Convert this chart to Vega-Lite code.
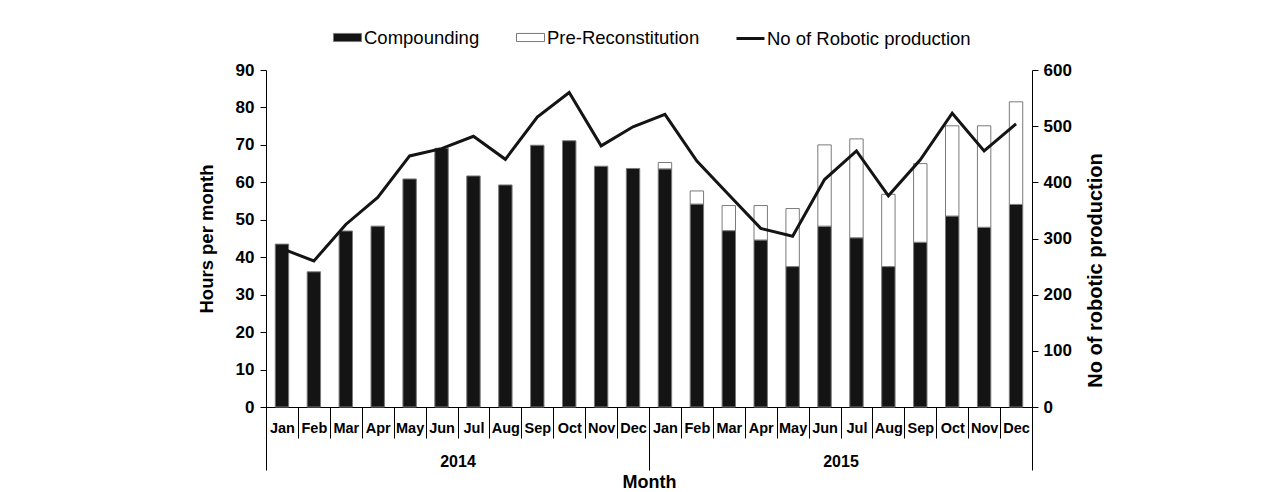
{
  "$schema": "https://vega.github.io/schema/vega-lite/v6.json",
  "width": 766,
  "height": 337,
  "autosize": {"type": "none"},
  "padding": {"left": 266, "top": 70, "right": 249, "bottom": 85},
  "background": "white",
  "config": {
    "view": {"stroke": null},
    "font": "Liberation Sans",
    "axis": {
      "grid": false,
      "domainColor": "#000000",
      "tickColor": "#000000",
      "labelColor": "#000000",
      "titleColor": "#000000",
      "labelFont": "Liberation Sans",
      "titleFont": "Liberation Sans",
      "labelFontWeight": "bold",
      "titleFontWeight": "bold"
    },
    "legend": {
      "labelFont": "Liberation Sans",
      "labelFontSize": 18.5,
      "labelColor": "#000000",
      "labelLimit": 400
    }
  },
  "datasets": {
    "bars": [
      {"period": "2014 Jan", "series": "Compounding", "hours": 43.5},
      {"period": "2014 Feb", "series": "Compounding", "hours": 36.1},
      {"period": "2014 Mar", "series": "Compounding", "hours": 47.0},
      {"period": "2014 Apr", "series": "Compounding", "hours": 48.3},
      {"period": "2014 May", "series": "Compounding", "hours": 60.9},
      {"period": "2014 Jun", "series": "Compounding", "hours": 69.1},
      {"period": "2014 Jul", "series": "Compounding", "hours": 61.7},
      {"period": "2014 Aug", "series": "Compounding", "hours": 59.3},
      {"period": "2014 Sep", "series": "Compounding", "hours": 69.9},
      {"period": "2014 Oct", "series": "Compounding", "hours": 71.1},
      {"period": "2014 Nov", "series": "Compounding", "hours": 64.3},
      {"period": "2014 Dec", "series": "Compounding", "hours": 63.7},
      {"period": "2015 Jan", "series": "Compounding", "hours": 63.6},
      {"period": "2015 Feb", "series": "Compounding", "hours": 54.2},
      {"period": "2015 Mar", "series": "Compounding", "hours": 47.1},
      {"period": "2015 Apr", "series": "Compounding", "hours": 44.6},
      {"period": "2015 May", "series": "Compounding", "hours": 37.5},
      {"period": "2015 Jun", "series": "Compounding", "hours": 48.3},
      {"period": "2015 Jul", "series": "Compounding", "hours": 45.2},
      {"period": "2015 Aug", "series": "Compounding", "hours": 37.5},
      {"period": "2015 Sep", "series": "Compounding", "hours": 44.0},
      {"period": "2015 Oct", "series": "Compounding", "hours": 51.0},
      {"period": "2015 Nov", "series": "Compounding", "hours": 48.0},
      {"period": "2015 Dec", "series": "Compounding", "hours": 54.1},
      {"period": "2015 Jan", "series": "Pre-Reconstitution", "hours": 1.7},
      {"period": "2015 Feb", "series": "Pre-Reconstitution", "hours": 3.5},
      {"period": "2015 Mar", "series": "Pre-Reconstitution", "hours": 6.7},
      {"period": "2015 Apr", "series": "Pre-Reconstitution", "hours": 9.2},
      {"period": "2015 May", "series": "Pre-Reconstitution", "hours": 15.5},
      {"period": "2015 Jun", "series": "Pre-Reconstitution", "hours": 21.7},
      {"period": "2015 Jul", "series": "Pre-Reconstitution", "hours": 26.4},
      {"period": "2015 Aug", "series": "Pre-Reconstitution", "hours": 19.3},
      {"period": "2015 Sep", "series": "Pre-Reconstitution", "hours": 21.0},
      {"period": "2015 Oct", "series": "Pre-Reconstitution", "hours": 24.1},
      {"period": "2015 Nov", "series": "Pre-Reconstitution", "hours": 27.1},
      {"period": "2015 Dec", "series": "Pre-Reconstitution", "hours": 27.4}
    ],
    "line": [
      {"period": "2014 Jan", "series": "No of Robotic production", "count": 282},
      {"period": "2014 Feb", "series": "No of Robotic production", "count": 260},
      {"period": "2014 Mar", "series": "No of Robotic production", "count": 325},
      {"period": "2014 Apr", "series": "No of Robotic production", "count": 373},
      {"period": "2014 May", "series": "No of Robotic production", "count": 447},
      {"period": "2014 Jun", "series": "No of Robotic production", "count": 460},
      {"period": "2014 Jul", "series": "No of Robotic production", "count": 482},
      {"period": "2014 Aug", "series": "No of Robotic production", "count": 441},
      {"period": "2014 Sep", "series": "No of Robotic production", "count": 516},
      {"period": "2014 Oct", "series": "No of Robotic production", "count": 560},
      {"period": "2014 Nov", "series": "No of Robotic production", "count": 465},
      {"period": "2014 Dec", "series": "No of Robotic production", "count": 499},
      {"period": "2015 Jan", "series": "No of Robotic production", "count": 521},
      {"period": "2015 Feb", "series": "No of Robotic production", "count": 438},
      {"period": "2015 Mar", "series": "No of Robotic production", "count": 378},
      {"period": "2015 Apr", "series": "No of Robotic production", "count": 318},
      {"period": "2015 May", "series": "No of Robotic production", "count": 304},
      {"period": "2015 Jun", "series": "No of Robotic production", "count": 405},
      {"period": "2015 Jul", "series": "No of Robotic production", "count": 456},
      {"period": "2015 Aug", "series": "No of Robotic production", "count": 376},
      {"period": "2015 Sep", "series": "No of Robotic production", "count": 440},
      {"period": "2015 Oct", "series": "No of Robotic production", "count": 523},
      {"period": "2015 Nov", "series": "No of Robotic production", "count": 456},
      {"period": "2015 Dec", "series": "No of Robotic production", "count": 504}
    ],
    "years": [
      {"year": "2014"},
      {"year": "2015"}
    ]
  },
  "layer": [
    {
      "data": {"name": "bars"},
      "mark": {"type": "bar", "width": {"band": 0.42}, "stroke": "#7a7a7a", "strokeWidth": 1},
      "encoding": {
        "x": {
          "field": "period",
          "type": "nominal",
          "scale": {
            "domain": ["2014 Jan","2014 Feb","2014 Mar","2014 Apr","2014 May","2014 Jun","2014 Jul","2014 Aug","2014 Sep","2014 Oct","2014 Nov","2014 Dec","2015 Jan","2015 Feb","2015 Mar","2015 Apr","2015 May","2015 Jun","2015 Jul","2015 Aug","2015 Sep","2015 Oct","2015 Nov","2015 Dec"],
            "paddingInner": 0,
            "paddingOuter": 0
          },
          "axis": {
            "orient": "bottom",
            "title": null,
            "tickBand": "extent",
            "tickSize": 31,
            "labelExpr": "datum.label ? substring(datum.label, 5) : ''",
            "labelFontSize": 14.5,
            "labelAngle": 0,
            "labelPadding": -10,
            "labelBaseline": "middle",
            "labelOverlap": false,
            "labelBound": false,
            "labelFlush": false
          }
        },
        "y": {
          "field": "hours",
          "type": "quantitative",
          "stack": "zero",
          "scale": {"domain": [0, 90], "nice": false},
          "axis": {
            "orient": "left",
            "values": [0, 10, 20, 30, 40, 50, 60, 70, 80, 90],
            "title": "Hours per month",
            "titleFontSize": 18.5,
            "titlePadding": 19,
            "labelFontSize": 17,
            "tickSize": 6,
            "labelPadding": 6
          }
        },
        "order": {"field": "series", "type": "ordinal", "sort": "ascending"},
        "fill": {
          "field": "series",
          "type": "nominal",
          "scale": {
            "domain": ["Compounding", "Pre-Reconstitution"],
            "range": ["#141414", "#ffffff"]
          },
          "legend": {
            "orient": "none",
            "legendX": 67,
            "legendY": -47,
            "direction": "horizontal",
            "title": null,
            "symbolType": "M-1,-0.29H1V0.29H-1Z",
            "symbolSize": 784,
            "symbolStrokeColor": "#7a7a7a",
            "symbolStrokeWidth": 1,
            "labelOffset": 2,
            "columnPadding": 34
          }
        }
      }
    },
    {
      "data": {"name": "line"},
      "mark": {"type": "line", "strokeWidth": 3},
      "encoding": {
        "x": {
          "field": "period",
          "type": "nominal",
          "scale": {
            "type": "point",
            "padding": 0.5,
            "domain": ["2014 Jan","2014 Feb","2014 Mar","2014 Apr","2014 May","2014 Jun","2014 Jul","2014 Aug","2014 Sep","2014 Oct","2014 Nov","2014 Dec","2015 Jan","2015 Feb","2015 Mar","2015 Apr","2015 May","2015 Jun","2015 Jul","2015 Aug","2015 Sep","2015 Oct","2015 Nov","2015 Dec"]
          },
          "axis": null
        },
        "y": {
          "field": "count",
          "type": "quantitative",
          "scale": {"domain": [0, 600], "nice": false},
          "axis": {
            "orient": "right",
            "values": [0, 100, 200, 300, 400, 500, 600],
            "title": "No of robotic  production",
            "titleFontSize": 20,
            "titleAngle": 270,
            "titleBaseline": "top",
            "titlePadding": 14,
            "titleY": 200,
            "labelFontSize": 17,
            "tickSize": 6,
            "labelPadding": 5
          }
        },
        "stroke": {
          "field": "series",
          "type": "nominal",
          "scale": {"domain": ["No of Robotic production"], "range": ["#141414"]},
          "legend": {
            "orient": "none",
            "legendX": 469,
            "legendY": -47,
            "direction": "horizontal",
            "title": null,
            "symbolType": "stroke",
            "symbolSize": 784,
            "symbolStrokeWidth": 3,
            "labelOffset": 1
          }
        }
      }
    },
    {
      "data": {"name": "years"},
      "mark": {"type": "bar", "opacity": 0},
      "encoding": {
        "x": {
          "field": "year",
          "type": "nominal",
          "scale": {"paddingInner": 0, "paddingOuter": 0},
          "axis": {
            "orient": "bottom",
            "title": "Month",
            "titleFontSize": 18,
            "titlePadding": 3,
            "tickBand": "extent",
            "tickSize": 63,
            "domain": false,
            "labelFontSize": 16,
            "labelAngle": 0,
            "labelPadding": -9,
            "labelBaseline": "middle",
            "labelOverlap": false
          }
        }
      }
    }
  ],
  "resolve": {
    "scale": {"x": "independent", "y": "independent"},
    "axis": {"x": "independent", "y": "independent"}
  }
}
